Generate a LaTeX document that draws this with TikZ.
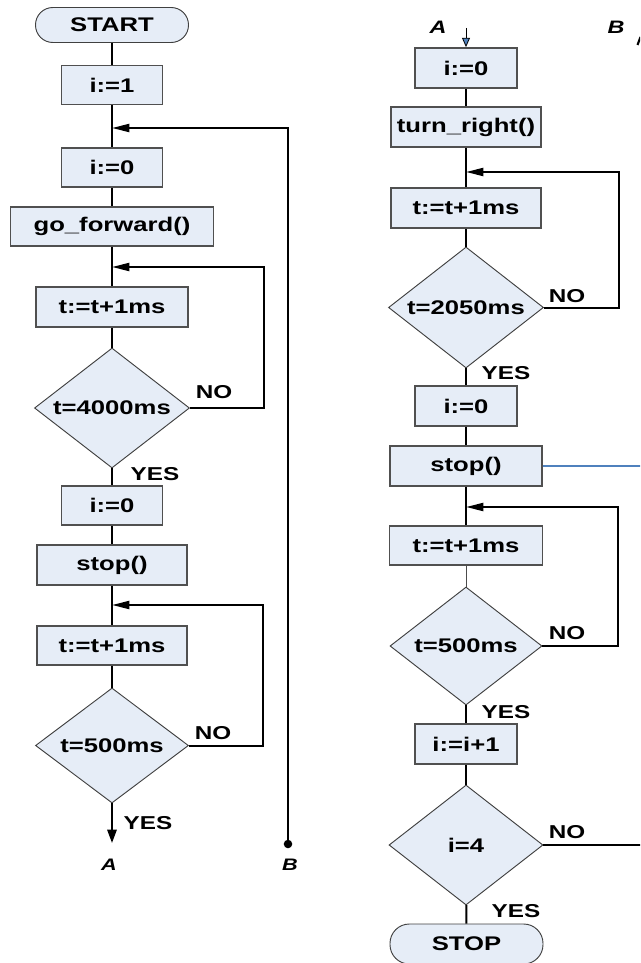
\documentclass[tikz,border=0pt]{standalone}
\usepackage{fontspec}
\setmainfont[FakeStretch=1.3]{Liberation Sans}
\usetikzlibrary{arrows.meta,shapes.geometric}
\definecolor{boxfill}{RGB}{230,237,247}
\definecolor{boxline}{RGB}{80,80,80}
\definecolor{bluel}{RGB}{79,129,189}
\begin{document}
\begin{tikzpicture}[x=0.75pt,y=-0.75pt,
  txt/.style={font=\fontsize{14.8}{17}\selectfont\bfseries},
  proc/.style={txt,draw=boxline,line width=1.3pt,fill=boxfill,inner sep=0pt},
  dec/.style={txt,diamond,aspect=1.3,draw=boxline!80!black,line width=0.7pt,fill=boxfill,inner sep=0pt},
  term/.style={txt,draw=boxline!80!black,line width=0.7pt,fill=boxfill,inner sep=0pt},
  lab/.style={font=\fontsize{14}{16}\selectfont\bfseries,inner sep=0pt},
  conn/.style={font=\fontsize{#1}{15}\selectfont\bfseries\itshape,inner sep=0pt},
  flow/.style={line width=1.5pt,black},
  larr/.style={flow,-{Triangle[length=13pt,width=6pt]}},
  darr/.style={flow,-{Triangle[length=10pt,width=7pt]}}
]
\useasboundingbox (0,0) rectangle (640,963);
\clip (0,0) rectangle (640,963);

% ---------------- left column ----------------
\node[term,rounded corners=13pt,minimum width=114.75pt,minimum height=26.25pt] (start) at (112,25) {START};
\node[proc,minimum width=75.75pt,minimum height=29.25pt] (l1) at (112,85) {i:=1};
\node[proc,minimum width=75.75pt,minimum height=29.25pt] (l2) at (112,167.5) {i:=0};
\node[proc,minimum width=152.25pt,minimum height=29.25pt] (l3) at (112,226.5) {go\_forward()};
\node[proc,minimum width=114pt,minimum height=30pt] (l4) at (112,307) {t:=t+1ms};
\node[dec,minimum width=116.25pt,minimum height=90pt] (l5) at (112,408) {t=4000ms};
\node[proc,minimum width=75.75pt,minimum height=29.25pt] (l6) at (112,505.5) {i:=0};
\node[proc,minimum width=112.5pt,minimum height=30pt] (l7) at (112,565) {stop()};
\node[proc,minimum width=112.5pt,minimum height=29.25pt] (l8) at (112,645.5) {t:=t+1ms};
\node[dec,minimum width=114.75pt,minimum height=86.25pt] (l9) at (112,745.5) {t=500ms};

\coordinate (j1) at (112,128);
\coordinate (j2) at (112,267);
\coordinate (j3) at (112,605);
\coordinate (aend) at (112,843);
\coordinate (bdot) at (288,844);

\draw[flow] (start) -- (l1);
\draw[flow] (l1) -- (l2);
\draw[flow] (l2) -- (l3);
\draw[flow] (l3) -- (l4);
\draw[flow] (l4) -- (l5);
\draw[flow] (l5) -- (l6);
\draw[flow] (l6) -- (l7);
\draw[flow] (l7) -- (l8);
\draw[flow] (l8) -- (l9);
\draw[darr] (l9) -- (aend);

\draw[larr] (bdot) |- (j1);
\fill (bdot) circle[radius=3.2pt];
\draw[larr] (l5.east) -- ++(74,0) |- (j2);
\draw[larr] (l9.east) -- ++(74,0) |- (j3);

\node[lab] (no1) at (214,392) {NO};
\node[lab] (yes1) at (155,474) {YES};
\node[lab] (no2) at (213,733) {NO};
\node[lab] (yes2) at (148,823) {YES};
\node[conn=12.5] (lA) at (109,865) {A};
\node[conn=12.5] (lB) at (290,865) {B};

% ---------------- right column ----------------
\node[conn=13.5] (tA) at (438,27) {A};
\node[conn=13.5] (tB) at (616,27) {B};
\draw[line width=1.6pt] (637.5,45) -- (640.5,37);
\coordinate (ain) at (466,28);

\node[proc,minimum width=76.5pt,minimum height=30pt] (r1) at (466,68) {i:=0};
\node[proc,minimum width=112.5pt,minimum height=30pt] (r2) at (466,127) {turn\_right()};
\node[proc,minimum width=112.5pt,minimum height=30pt] (r3) at (466,208) {t:=t+1ms};
\node[dec,minimum width=116.25pt,minimum height=90.75pt] (r4) at (466,307.5) {t=2050ms};
\node[proc,minimum width=76.5pt,minimum height=30pt] (r5) at (466,406) {i:=0};
\node[proc,minimum width=114pt,minimum height=30pt] (r6) at (466,466) {stop()};
\node[proc,minimum width=114.75pt,minimum height=29.25pt] (r7) at (466,545.5) {t:=t+1ms};
\node[dec,minimum width=114pt,minimum height=88.5pt] (r8) at (466,646) {t=500ms};
\node[proc,minimum width=76.5pt,minimum height=30pt] (r9) at (466,744) {i:=i+1};
\node[dec,minimum width=115.5pt,minimum height=90pt] (r10) at (466,845) {i=4};
\node[term,rounded corners=14.5pt,minimum width=114.75pt,minimum height=30pt] (stop) at (466.5,944) {STOP};

\coordinate (j4) at (466,172);
\coordinate (j5) at (466,507);
\coordinate (blueend) at (645,466);
\coordinate (noend) at (645,845);

\draw[line width=0.6pt,-{Triangle[length=7pt,width=6pt,fill=bluel]}] (ain) -- (r1);
\draw[flow] (r1) -- (r2);
\draw[flow] (r2) -- (r3);
\draw[flow] (r3) -- (r4);
\draw[flow] (r4) -- (r5);
\draw[flow] (r5) -- (r6);
\draw[flow] (r6) -- (r7);
\draw[line width=0.7pt,black!70] (r7) -- (r8);
\draw[flow] (r8) -- (r9);
\draw[flow] (r9) -- (r10);
\draw[flow] (r10) -- (stop);

\draw[larr] (r4.east) -- ++(75,0) |- (j4);
\draw[larr] (r8.east) -- ++(76,0) |- (j5);
\draw[line width=1pt,bluel] (r6.east) -- (blueend);
\draw[flow] (r10.east) -- (noend);

\node[lab] (no3) at (567,296) {NO};
\node[lab] (yes3) at (506,373) {YES};
\node[lab] (no4) at (567,633) {NO};
\node[lab] (yes4) at (506,712) {YES};
\node[lab] (no5) at (567,832) {NO};
\node[lab] (yes5) at (516,911) {YES};
\end{tikzpicture}
\end{document}
